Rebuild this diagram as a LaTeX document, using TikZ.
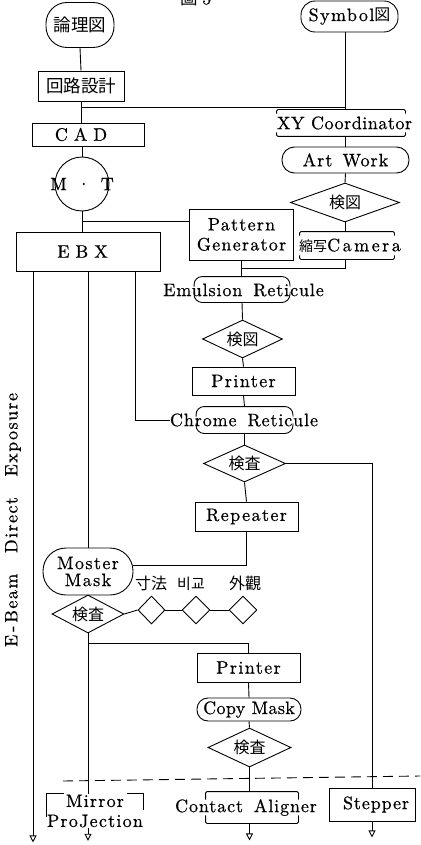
\documentclass[tikz,border=0pt]{standalone}
\usepackage{fontspec}
\setmainfont{lmroman10-regular}[Extension=.otf,FakeBold=0.6]
\newfontfamily\cjk{Noto Sans CJK JP}
\newfontfamily\kor{Noto Sans CJK KR}
\usetikzlibrary{shapes.geometric,arrows.meta}
\newcommand\LS[1]{\addfontfeatures{LetterSpace=#1}}
\newcommand\Lf{\fontsize{18}{20}\selectfont}
\newcommand\Jf{\cjk\fontsize{17.5}{19}\selectfont}
\newcommand\Jk{\cjk\fontsize{16}{18}\selectfont}
\newcommand\DrawBrk[2]{%
 \draw[rounded corners=1.5pt] ([yshift=-#2]#1.north west) -- (#1.north west) -- (#1.north east) -- ([yshift=-#2]#1.north east);
 \draw[rounded corners=1.5pt] ([yshift=#2]#1.south west) -- (#1.south west) -- (#1.south east) -- ([yshift=#2]#1.south east);}
\newcommand\DrawRet[1]{%
 \draw[rounded corners=8pt] ([yshift=-10pt]#1.north west) -- (#1.north west) -- (#1.north east) -- ([yshift=-10pt]#1.north east);
 \draw[rounded corners=8pt] ([yshift=10pt]#1.south west) -- (#1.south west) -- (#1.south east) -- ([yshift=10pt]#1.south east);}
\tikzset{
 boxn/.style={draw, rectangle, inner sep=0pt},
 dia/.style={draw, diamond, inner sep=0pt, aspect=2.5, font=\Jk},
 ghost/.style={inner sep=0pt, draw=none},
 txt/.style={inner sep=0pt},
 arr/.style={-{Triangle[open,width=7pt,length=7pt]}},
}
\begin{document}
\begin{tikzpicture}[x=1pt,y=-1pt,line width=0.9pt]
\fill[white] (0,0) rectangle (420,845);
\useasboundingbox (0,0) rectangle (420,845);

% title (cut off at the top edge, as in the reference)
\node[txt, font=\Jf] (title) at (196,-2) {圖\hspace{4pt}{\rmfamily\Lf 5}};

% left column
\node[draw, rounded corners=21pt, minimum width=68pt, minimum height=45pt, inner sep=0pt, font=\Jf] (ronri) at (80,25) {論理図};
\node[boxn, minimum width=86pt, minimum height=30pt, font=\Jf] (kairo) at (81,86) {回路設計};
\node[boxn, minimum width=112pt, minimum height=23pt, font=\Lf] (cad) at (88,134.5) {C\hspace{6pt}A\hspace{6pt}D\hspace*{14pt}};
\node[draw, circle, minimum size=54pt, inner sep=0pt] (mt) at (82,184) {};
\node[txt, font=\Lf] (mtT) at (mt) {M\hspace{10pt}·\hspace{10pt}T};
\node[boxn, minimum width=144pt, minimum height=39pt, font=\Lf] (ebx) at (88,251.5) {E\hspace{6pt}B\hspace{6pt}X\hspace*{11pt}};

% right column
\node[draw, rounded corners=14pt, minimum width=97pt, minimum height=31pt, inner sep=0pt, font={\Lf\LS{8}}] (sym) at (349.5,16.5) {Symbol{\Jk 図}};
\node[ghost, minimum width=128pt, minimum height=26pt] (xy) at (341,123) {};
\node[txt, font={\Lf\LS{3}}] (xyT) at (344.5,123) {XY Coordinator};
\node[draw, rounded corners=12.5pt, minimum width=127pt, minimum height=26pt, inner sep=0pt, font={\Lf\LS{6}}] (art) at (345.5,160) {Art\hspace{3pt} Work};
\node[dia, minimum width=109pt, minimum height=39pt] (kz1) at (345,202.5) {検図};
\node[ghost, minimum width=94pt, minimum height=27pt] (cam) at (347,245.5) {};
\node[txt, font=\Lf] (camT) at (350,245.5) {{\cjk\fontsize{14}{16}\selectfont 縮写}\LS{14}Camera};
\node[boxn, minimum width=104pt, minimum height=51pt, align=center, font={\Lf\LS{7}}] (pg) at (241.5,234.5) {Pattern\\Generator};

% middle column
\node[ghost, minimum width=95pt, minimum height=25pt] (emul) at (242,289.5) {};
\node[txt, font={\Lf\LS{5}}] (emulT) at (243.5,290) {Emulsion\hspace{4pt} Reticule};
\node[dia, minimum width=80pt, minimum height=38pt] (kz2) at (242.5,339) {検図};
\node[boxn, minimum width=103pt, minimum height=28pt, font={\Lf\LS{8}}] (pr1) at (243.5,381) {Printer};
\node[ghost, minimum width=96pt, minimum height=26pt] (chrome) at (244.5,420) {};
\node[txt, font={\Lf\LS{5}}] (chromeT) at (244,420) {Chrome\hspace{4pt} Reticule};
\node[dia, minimum width=82pt, minimum height=37pt] (k1) at (244.5,463.5) {検査};
\node[boxn, minimum width=103pt, minimum height=29pt, font={\Lf\LS{8}}] (rep) at (246.5,516.5) {Repeater};

% lower part
\node[draw, rounded corners=23pt, minimum width=90pt, minimum height=47pt, inner sep=0pt, align=center, font={\fontsize{18}{17}\selectfont\LS{8}}] (mm) at (88,571.5) {Moster\\Mask};
\node[dia, minimum width=72pt, minimum height=38pt] (k2) at (88,614) {検査};
\node[draw, diamond, inner sep=0pt, minimum width=27pt, minimum height=28pt] (sd1) at (151.5,610) {};
\node[draw, diamond, inner sep=0pt, minimum width=28pt, minimum height=28pt] (sd2) at (196,610) {};
\node[draw, diamond, inner sep=0pt, minimum width=28pt, minimum height=28pt] (sd3) at (243,610) {};
\node[txt, font=\Jk] (l1) at (151,583.5) {寸法};
\node[txt, font={\kor\fontsize{15}{17}\selectfont}] (l2) at (191,583.5) {비교};
\node[txt, font=\Jk] (l3) at (245,583.5) {外觀};

\node[boxn, minimum width=103pt, minimum height=29pt, font={\Lf\LS{8}}] (pr2) at (248.5,667.5) {Printer};
\node[draw, rounded corners=11pt, minimum width=104pt, minimum height=23pt, inner sep=0pt, font={\Lf\LS{2}}] (copy) at (249,709.5) {Copy Mask};
\node[dia, minimum width=83pt, minimum height=39pt] (k3) at (249.5,747.5) {検査};

% bottom row
\node[ghost, minimum width=96pt, minimum height=14pt] (mirB) at (95,801) {};
\node[txt, align=center, font={\Lf\LS{7}}] (mir) at (95,811) {Mirror\\ProJection};
\node[ghost, minimum width=92pt, minimum height=31pt] (ca) at (252,807.5) {};
\node[txt, font={\Lf\LS{5}}] (caT) at (246,807.5) {Contact\hspace{4pt} Aligner};
\node[boxn, minimum width=86pt, minimum height=33pt, font={\Lf\LS{5}}] (step) at (372,804.5) {\hspace*{8pt}Stepper};

% vertical label
\node[txt, rotate=90, font={\Lf\LS{8}}] (ebeam) at (13,520) {\makebox[254pt][s]{E\hspace{3pt}-\hspace{3pt}Beam\hfill Direct\hfill Exposure}};

% bracket decorations
\DrawBrk{xy}{4pt}
\DrawBrk{cam}{4pt}
\DrawBrk{ca}{8pt}
\DrawRet{emul}
\DrawRet{chrome}
\draw ([yshift=-23pt]mirB.north west) -- (mirB.north west) -- ([xshift=17pt]mirB.north west);
\draw ([xshift=-16pt]mirB.north east) -- (mirB.north east) -- ([yshift=-16pt]mirB.north east);

% dashed separator
\draw[dash pattern=on 10pt off 6pt] (63,781) -- (420,776);

% connectors
\coordinate (b1) at (81,107);
\coordinate (b2) at (82,221);
\coordinate (b3) at (88,643);
\draw (ronri.south) -- (kairo.north);
\draw (kairo.south) -- (kairo.south |- cad.north);
\draw (b1) -- (b1 -| art.north);
\draw (mt.north |- cad.south) -- (mt.north);
\draw (mt.south) -- (mt.south |- ebx.north);
\draw (b2) -- (b2 -| pg.west);

\draw (sym.south -| art.north) -- (art.north |- xy.north);
\draw (art.north |- xy.south) -- (art.north);
\draw (art.south) -- (kz1.north);
\draw (kz1.south) -- (kz1.south |- cam.north);
\draw (kz1.south |- cam.south) |- ([yshift=-8pt]pg.south);
\draw (pg.south) -- (pg.south |- emul.north);
\draw (emul.south) -- (kz2.north);
\draw (kz2.south) -- (pr1.north);
\draw (pr1.south) -- (chrome.north);
\draw (chrome.south) -- (k1.north);
\draw (k1.east) -| (step.north);
\draw (k1.south) -- (rep.north);
\draw (rep.south) |- ([yshift=6pt]mm.east);

\draw[arr] ([xshift=-55pt]ebx.south) -- ++(0,571);
\draw (ebx.south) -- (mm.north);
\draw ([xshift=47pt]ebx.south) |- (chromeT.west);

\draw (mm.south) -- (k2.north);
\draw (k2.east) -- (sd1.west);
\draw (sd1.east) -- (sd2.west);
\draw (sd2.east) -- (sd3.west);
\draw (k2.south) -- (k2.south |- mir.north);
\draw (b3) -| (pr2.north);
\draw[arr] (k2.south |- mir.south) -- ++(0,13);
\draw (pr2.south) -- (copy.north);
\draw (copy.south) -- (k3.north);
\draw (k3.south) -- (k3.south |- ca.north);
\draw[arr] (k3.south |- ca.south) -- ++(0,17);
\draw[arr] (step.south) -- ++(0,16);
\end{tikzpicture}
\end{document}
